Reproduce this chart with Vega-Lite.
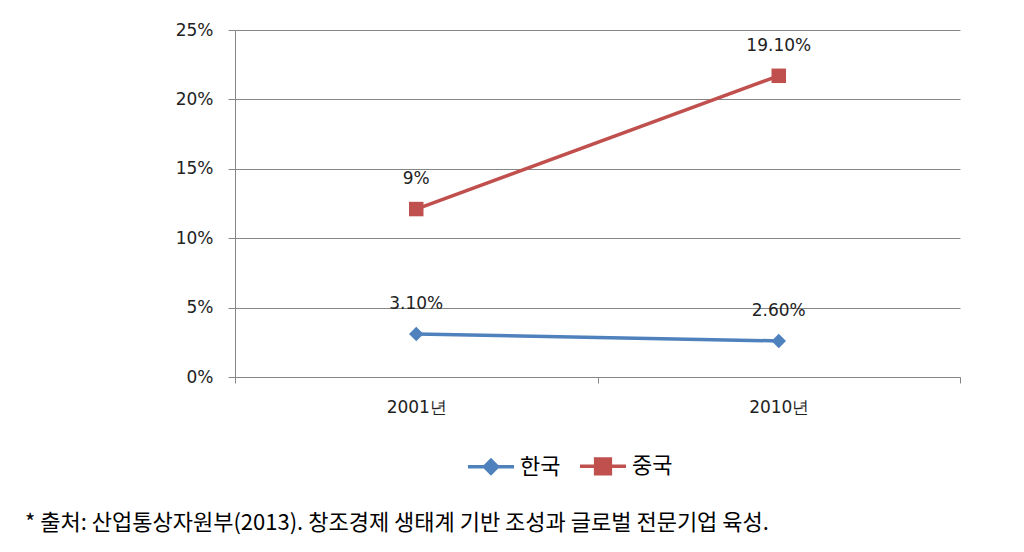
{
  "$schema": "https://vega.github.io/schema/vega-lite/v6.json",
  "width": 725,
  "height": 347,
  "autosize": "none",
  "padding": {"left": 235, "top": 30, "right": 64, "bottom": 175},
  "background": "white",
  "config": {"view": {"stroke": null}, "font": "DejaVu Sans"},
  "data": {
    "values": [
      {"year": "2001년", "series": "한국", "value": 3.1, "label": "3.10%"},
      {"year": "2010년", "series": "한국", "value": 2.6, "label": "2.60%"},
      {"year": "2001년", "series": "중국", "value": 9, "label": "9%"},
      {"year": "2010년", "series": "중국", "value": 19.1, "label": "19.10%"}
    ]
  },
  "transform": [
    {"stack": "value", "groupby": ["year"], "sort": [{"field": "series", "order": "descending"}], "as": ["v0", "v1"]}
  ],
  "title": {
    "text": "* 출처: 산업통상자원부(2013). 창조경제 생태계 기반 조성과 글로벌 전문기업 육성.",
    "orient": "bottom",
    "anchor": "start",
    "frame": "group",
    "dx": -210,
    "offset": 32,
    "fontSize": 22,
    "fontWeight": "normal",
    "font": "Noto Sans CJK KR",
    "color": "#000000"
  },
  "encoding": {
    "x": {
      "field": "year",
      "type": "nominal",
      "sort": null,
      "scale": {"type": "band", "paddingInner": 0, "paddingOuter": 0},
      "axis": {
        "title": null,
        "labelAngle": 0,
        "tickBand": "extent",
        "domainColor": "#868686",
        "tickColor": "#868686",
        "tickSize": 6,
        "labelPadding": 16,
        "labelFontSize": 17,
        "labelFont": "DejaVu Sans",
        "labelColor": "#222222",
        "grid": false
      }
    },
    "y": {
      "field": "v1",
      "type": "quantitative",
      "scale": {"domain": [0, 25]},
      "axis": {
        "title": null,
        "values": [0, 5, 10, 15, 20, 25],
        "labelExpr": "datum.value + '%'",
        "domainColor": "#868686",
        "tickColor": "#868686",
        "gridColor": "#868686",
        "tickSize": 7,
        "labelPadding": 15,
        "labelFontSize": 17,
        "labelFont": "DejaVu Sans",
        "labelColor": "#222222"
      }
    }
  },
  "layer": [
    {
      "mark": {"type": "line", "strokeWidth": 3.5},
      "encoding": {
        "color": {
          "field": "series",
          "type": "nominal",
          "scale": {"domain": ["한국", "중국"], "range": ["#4F81BD", "#C0504D"]},
          "legend": {
            "title": null,
            "orient": "none",
            "legendX": 231,
            "legendY": 411,
            "direction": "horizontal",
            "symbolSize": 2116,
            "symbolStrokeWidth": 3.5,
            "labelFontSize": 22,
            "labelFont": "Noto Sans CJK KR",
            "labelColor": "#000000",
            "labelOffset": 4,
            "columnPadding": 12,
            "encode": {
              "symbols": {
                "update": {
                  "shape": {"signal": "datum.value === '한국' ? 'M-1,0L1,0M0,-0.28L0.28,0L0,0.28L-0.28,0Z' : 'M-1,0L1,0M-0.32,-0.32L0.32,-0.32L0.32,0.32L-0.32,0.32Z'"},
                  "fill": {"scale": "color", "field": "value"},
                  "stroke": {"scale": "color", "field": "value"},
                  "opacity": {"value": 1}
                }
              }
            }
          }
        }
      }
    },
    {
      "transform": [{"filter": "datum.series === '한국'"}],
      "mark": {"type": "point", "shape": "diamond", "filled": true, "opacity": 1, "size": 210, "color": "#4F81BD"}
    },
    {
      "transform": [{"filter": "datum.series === '중국'"}],
      "mark": {"type": "point", "shape": "square", "filled": true, "opacity": 1, "size": 210, "color": "#C0504D"}
    },
    {
      "mark": {"type": "text", "dy": -30, "fontSize": 17, "font": "DejaVu Sans", "color": "#222222"},
      "encoding": {"text": {"field": "label"}}
    }
  ]
}
